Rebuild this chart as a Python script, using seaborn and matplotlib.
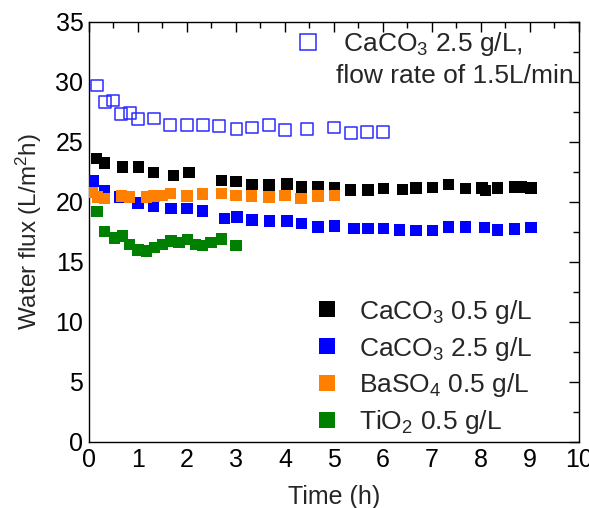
import numpy as np
import pandas as pd
import matplotlib
matplotlib.use("Agg")
import matplotlib.pyplot as plt
import seaborn as sns
from matplotlib.lines import Line2D
from matplotlib.ticker import MultipleLocator

# ---- data ----
t_open = [0.16, 0.32, 0.49, 0.66, 0.83, 1.0, 1.33, 1.66, 2.0, 2.32, 2.66, 3.01, 3.33,
          3.67, 4.0, 4.45, 5.0, 5.34, 5.68, 6.0]
y_open = [29.7, 28.3, 28.45, 27.3, 27.4, 26.9, 26.95, 26.4, 26.4, 26.4, 26.3, 26.1, 26.2,
          26.4, 26.0, 26.1, 26.2, 25.75, 25.8, 25.8]

t_ca05 = [0.15, 0.32, 0.68, 1.01, 1.32, 1.72, 2.04, 2.71, 3.0, 3.33, 3.67, 4.04, 4.34,
          4.67, 5.01, 5.34, 5.69, 6.01, 6.4, 6.67, 7.01, 7.34, 7.68, 8.02, 8.09, 8.34,
          8.68, 8.83, 9.02]
y_ca05 = [23.6, 23.25, 22.9, 22.9, 22.45, 22.2, 22.45, 21.8, 21.7, 21.45, 21.4, 21.5, 21.25,
          21.3, 21.2, 21.0, 21.0, 21.1, 21.05, 21.15, 21.2, 21.45, 21.1, 21.15, 20.97, 21.15,
          21.25, 21.25, 21.15]

t_ca25 = [0.09, 0.32, 0.62, 1.0, 1.32, 1.67, 2.0, 2.32, 2.77, 3.02, 3.33, 3.68, 4.04,
          4.34, 4.67, 5.01, 5.41, 5.69, 6.01, 6.34, 6.67, 7.01, 7.34, 7.68, 8.07, 8.34,
          8.68, 9.02]
y_ca25 = [21.75, 20.9, 20.4, 19.9, 19.6, 19.45, 19.45, 19.25, 18.6, 18.75, 18.5, 18.4, 18.4,
          18.2, 17.9, 18.0, 17.8, 17.8, 17.8, 17.65, 17.6, 17.6, 17.9, 17.9, 17.85, 17.65,
          17.75, 17.85]

t_ba = [0.07, 0.18, 0.32, 0.66, 0.83, 1.17, 1.33, 1.5, 1.66, 2.0, 2.32, 2.7, 3.0, 3.32,
        3.67, 4.0, 4.33, 4.67, 5.01]
y_ba = [20.8, 20.4, 20.3, 20.5, 20.4, 20.4, 20.5, 20.55, 20.7, 20.5, 20.65, 20.7, 20.55, 20.5,
        20.4, 20.55, 20.3, 20.5, 20.55]

t_ti = [0.16, 0.32, 0.52, 0.68, 0.83, 1.0, 1.17, 1.34, 1.5, 1.67, 1.84, 2.01, 2.17, 2.32,
        2.49, 2.7, 3.0]
y_ti = [19.2, 17.55, 17.0, 17.15, 16.45, 16.0, 15.9, 16.2, 16.45, 16.75, 16.6, 16.85, 16.45,
        16.35, 16.6, 16.9, 16.35]

labels = ["CaCO$_3$ 0.5 g/L", "CaCO$_3$ 2.5 g/L", "BaSO$_4$ 0.5 g/L", "TiO$_2$ 0.5 g/L"]
colors = ["#000000", "#0000ff", "#ff8000", "#008000"]
open_label_1 = " CaCO$_3$ 2.5 g/L,"
open_label_2 = "flow rate of 1.5L/min"

# ---- frame ----
df = pd.concat([
    pd.DataFrame({"t": t_ca25, "y": y_ca25, "s": labels[1]}),
    pd.DataFrame({"t": t_ca05, "y": y_ca05, "s": labels[0]}),
    pd.DataFrame({"t": t_ba, "y": y_ba, "s": labels[2]}),
    pd.DataFrame({"t": t_ti, "y": y_ti, "s": labels[3]}),
], ignore_index=True)

sns.set_style("white")
plt.rcParams["font.family"] = ["Liberation Sans", "DejaVu Sans"]
plt.rcParams["mathtext.fontset"] = "custom"
plt.rcParams["mathtext.rm"] = "Liberation Sans"
plt.rcParams["mathtext.it"] = "Liberation Sans"

fig = plt.figure(figsize=(5.89, 5.08), dpi=100)
ax = fig.add_axes([0.151, 0.130, 0.983 - 0.151, 0.957 - 0.130])

sns.scatterplot(x=t_open, y=y_open, ax=ax, marker="s", s=72,
                facecolor="none", edgecolor="#2b2bff", linewidth=1.1, zorder=3)
sns.scatterplot(data=df, x="t", y="y", hue="s", hue_order=labels,
                palette=dict(zip(labels, colors)), marker="s", s=68,
                linewidth=0, ax=ax, legend=False, zorder=3)

ax.set_xlim(0, 10)
ax.set_ylim(0, 35)
ax.xaxis.set_major_locator(MultipleLocator(1))
ax.xaxis.set_minor_locator(MultipleLocator(0.5))
ax.yaxis.set_major_locator(MultipleLocator(5))
ax.yaxis.set_minor_locator(MultipleLocator(2.5))
ax.tick_params(which="both", direction="in", top=True, right=True, labelsize=18,
               width=1, colors="black")
ax.tick_params(which="major", length=7, pad=4)
ax.tick_params(which="minor", length=4)
for sp in ax.spines.values():
    sp.set_linewidth(1.0)
    sp.set_color("black")

ax.set_xlabel("Time (h)", fontsize=18, labelpad=10)
ax.set_ylabel("Water flux (L/m$^2$h)", fontsize=17.5, labelpad=8)

# ---- legends ----
h_open = [Line2D([], [], ls="none", marker="s", markersize=11, markerfacecolor="none",
                 markeredgecolor="#2b2bff", markeredgewidth=1.1),
          Line2D([], [], ls="none", marker=None)]
leg1 = ax.legend(h_open, [open_label_1, open_label_2], loc="upper right",
                 bbox_to_anchor=(1.01, 1.006), frameon=False, fontsize=19,
                 handletextpad=0.55, borderaxespad=0, handlelength=1.0,
                 labelspacing=0.25)
ax.add_artist(leg1)

h_fill = [Line2D([], [], ls="none", marker="s", markersize=11, markerfacecolor=c,
                 markeredgewidth=0) for c in colors]
ax.legend(h_fill, labels, loc="lower right", bbox_to_anchor=(0.926, -0.012),
          frameon=False, fontsize=19, handletextpad=0.71, labelspacing=0.34,
          borderaxespad=0, handlelength=1.0)

fig.savefig("out.png", dpi=100)
